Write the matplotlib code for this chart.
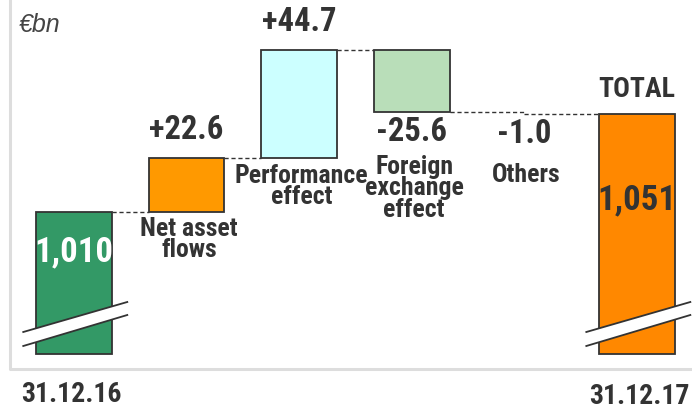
import matplotlib
matplotlib.use("Agg")
import matplotlib.pyplot as plt
from matplotlib.patches import Polygon
from matplotlib.lines import Line2D
import matplotlib.transforms as mtransforms

# Assets under management bridge, 31.12.16 -> 31.12.17 (EUR bn)
start_label = "31.12.16"
end_label = "31.12.17"
start_value = 1010
end_value = 1051
steps = ["Net asset\nflows", "Performance\neffect", "Foreign\nexchange\neffect", "Others"]
step_values = [22.6, 44.7, -25.6, -1.0]
step_colors = ["#FF9900", "#CCFFFF", "#B9DEB9", None]

dark = "#333333"
plt.rcParams["font.family"] = ["Roboto Condensed", "DejaVu Sans"]

fig = plt.figure(figsize=(6.92, 4.13), dpi=100)
ax = fig.add_axes([0, 0, 1, 1])
ax.set_axis_off()

px_per_unit = 2.4
ax.set_xlim(-0.657, 5.488)
ax.set_ylim(1010 - (413 - 212) / px_per_unit, 1010 + 212 / px_per_unit)

base = 951  # broken-axis floor for the two totals
width = 0.67
n = len(steps) + 2
xs = list(range(n))


def fig_y(px):
    return 1 - px / 413


blend = mtransforms.blended_transform_factory(ax.transData, fig.transFigure)

# frame
fig.add_artist(Line2D([10 / 692, 10 / 692, 1], [1, fig_y(369), fig_y(369)],
                      transform=fig.transFigure, color="#DDDDDD", lw=2.2,
                      solid_joinstyle="round"))

# start and end bars
ax.bar(xs[0], start_value - base, bottom=base, width=width, color="#339966",
       edgecolor=dark, linewidth=1.3, zorder=2)
ax.bar(xs[-1], end_value - base, bottom=base, width=width, color="#FF8800",
       edgecolor=dark, linewidth=1.3, zorder=2)

# floating steps + dashed connectors
dash = (0, (3, 2))
level = start_value
prev_right = xs[0] + width / 2
for i, (val, col) in enumerate(zip(step_values, step_colors)):
    x = xs[i + 1]
    if col is not None:
        ax.bar(x, val, bottom=level, width=width, color=col, edgecolor=dark,
               linewidth=1.3, zorder=2)
        ax.plot([prev_right, x - width / 2], [level, level], ls=dash,
                color=dark, lw=1, zorder=1)
        prev_right = x + width / 2
    else:
        # step too small to draw as a bar: split the connector
        ax.plot([prev_right, x], [level, level], ls=dash, color=dark,
                lw=1, zorder=1)
        prev_right = x
    level += val
ax.plot([prev_right, xs[-1] - width / 2], [level, level], ls=dash,
        color=dark, lw=1, zorder=1)

# value labels
level = start_value
for i, val in enumerate(step_values):
    x = xs[i + 1]
    top = max(level, level + val)
    bottom = min(level, level + val)
    if val > 0:
        ax.annotate(f"+{val:.1f}", (x, top), xytext=(0, 28),
                    textcoords="offset pixels", ha="center", va="center",
                    fontsize=23.5, fontweight="bold", color=dark)
    else:
        ax.annotate(f"{val:.1f}", (x, bottom), xytext=(0, -20),
                    textcoords="offset pixels", ha="center", va="center",
                    fontsize=23.5, fontweight="bold", color=dark)
    level += val

ax.annotate(f"{start_value:,}", (xs[0], start_value), xytext=(0, -40),
            textcoords="offset pixels", ha="center", va="center",
            fontsize=25, fontweight="bold", color="white", zorder=4)
ax.annotate(f"{end_value:,}", (xs[-1], end_value), xytext=(0, -86),
            textcoords="offset pixels", ha="center", va="center",
            fontsize=25, fontweight="bold", color=dark, zorder=4)
ax.annotate("TOTAL", (xs[-1], end_value), xytext=(0, 24),
            textcoords="offset pixels", ha="center", va="center",
            fontsize=20, fontweight="bold", color=dark)

# step names
name_tops = [217, 164, 155, 163]
for i, (name, top) in enumerate(zip(steps, name_tops)):
    ax.text(xs[i + 1] + 0.02, fig_y(top), name, transform=blend, ha="center",
            va="top", fontsize=18.5, fontweight="bold", color=dark,
            linespacing=0.86)

# date labels under the totals
ax.text(xs[0] - 0.02, fig_y(394), start_label, transform=blend, ha="center",
        va="center", fontsize=20, fontweight="bold", color=dark)
ax.text(xs[-1] + 0.02, fig_y(396), end_label, transform=blend, ha="center",
        va="center", fontsize=20, fontweight="bold", color=dark)

ax.text(19 / 692, fig_y(25), "€bn", transform=fig.transFigure, ha="left",
        va="center", fontsize=18, fontstyle="italic", color="#444444",
        family=["Liberation Sans", "DejaVu Sans"])

# axis-break marks across the two total bars
for x in (xs[0], xs[-1]):
    x0 = x - width / 2 - 13 / 112.6
    x1 = x0 + 104 / 112.6
    y_lo0, y_lo1 = 1010 - (346 - 212) / px_per_unit, 1010 - (315 - 212) / px_per_unit
    y_hi0, y_hi1 = 1010 - (332 - 212) / px_per_unit, 1010 - (302 - 212) / px_per_unit
    ax.add_patch(Polygon([(x0, y_lo0), (x1, y_lo1), (x1, y_hi1), (x0, y_hi0)],
                         closed=True, facecolor="white", edgecolor="none",
                         zorder=3, clip_on=False))
    ax.plot([x0, x1], [y_lo0, y_lo1], color=dark, lw=1.3, zorder=3,
            clip_on=False)
    ax.plot([x0, x1], [y_hi0, y_hi1], color=dark, lw=1.3, zorder=3,
            clip_on=False)

fig.savefig("out.png", dpi=100)
